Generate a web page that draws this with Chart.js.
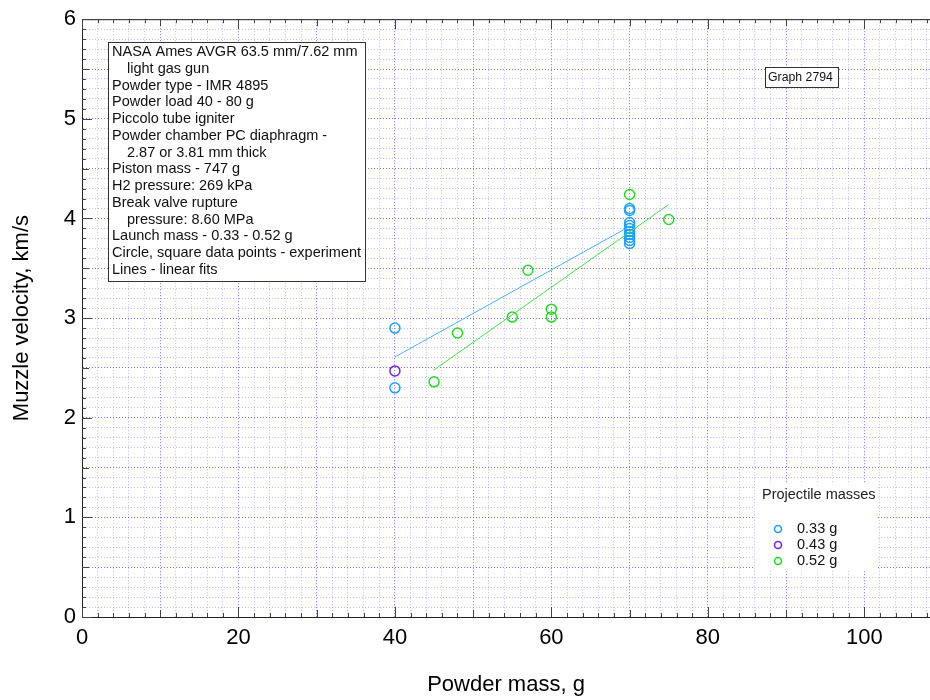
<!DOCTYPE html>
<html>
<head>
<meta charset="utf-8">
<script src="https://cdn.jsdelivr.net/npm/chart.js@4.4.1/dist/chart.umd.min.js"></script>
<style>
  body { margin: 0; background: #fff; }
  #wrap { width: 930px; height: 700px; }
</style>
</head>
<body>
<div id="wrap"><canvas id="muzzle_chart" width="930" height="700"></canvas></div>
<script>
// projectile 0.33 g
const blueX = [40, 40, 70, 70, 70, 70, 70, 70, 70, 70, 70, 70];
const blueY = [2.90, 2.30, 4.10, 4.08, 3.96, 3.93, 3.90, 3.87, 3.84, 3.81, 3.78, 3.75];
// projectile 0.43 g
const purpleX = [40];
const purpleY = [2.47];
// projectile 0.52 g
const greenX = [45, 48, 55, 57, 60, 60, 70, 75];
const greenY = [2.36, 2.85, 3.01, 3.48, 3.09, 3.01, 4.24, 3.99];
// linear fits
const blueFitX = [40, 70];
const blueFitY = [2.61, 3.92];
const greenFitX = [45, 75];
const greenFitY = [2.48, 4.14];

const legendLabels = ["0.33 g", "0.43 g", "0.52 g"];
const xTickLabels = [0, 20, 40, 60, 80, 100];
const yTickLabels = [0, 1, 2, 3, 4, 5, 6];

const notes = [
    ["NASA Ames AVGR 63.5 mm/7.62 mm", 0],
    ["light gas gun", 1],
    ["Powder type - IMR 4895", 0],
    ["Powder load 40 - 80 g", 0],
    ["Piccolo tube igniter", 0],
    ["Powder chamber PC diaphragm -", 0],
    ["2.87 or 3.81 mm thick", 1],
    ["Piston mass - 747 g", 0],
    ["H2 pressure: 269 kPa", 0],
    ["Break valve rupture", 0],
    ["pressure: 8.60 MPa", 1],
    ["Launch mass - 0.33 - 0.52 g", 0],
    ["Circle, square data points - experiment", 0],
    ["Lines - linear fits", 0]
];

const BLUE = "#1ea0ff";
const PURPLE = "#7a22e6";
const GREEN = "#22dd22";

function pts(xs, ys) {
    return xs.map((x, i) => ({x: x, y: ys[i]}));
}

function near(v, step) {
    return Math.abs(v / step - Math.round(v / step)) < 1e-6;
}

const FONT = "'Liberation Sans', Arial, sans-serif";

// tick marks pointing inwards, top border, text boxes and legend
const decorPlugin = {
    id: "decor",
    beforeDatasetsDraw(chart) {
        const ctx = chart.ctx;
        const a = chart.chartArea;
        const xs = chart.scales.x, ys = chart.scales.y;
        ctx.save();
        ctx.strokeStyle = "#222";
        ctx.lineWidth = 1;
        ctx.beginPath();
        ctx.moveTo(a.left, a.top + 0.5);
        ctx.lineTo(a.right, a.top + 0.5);
        ctx.stroke();
        ctx.strokeStyle = "#444";
        xs.ticks.forEach(t => {
            const px = Math.round(xs.getPixelForValue(t.value)) + 0.5;
            const len = near(t.value, 20) ? 10 : near(t.value, 10) ? 7 : 4;
            ctx.beginPath();
            ctx.moveTo(px, a.bottom);
            ctx.lineTo(px, a.bottom - len);
            ctx.moveTo(px, a.top);
            ctx.lineTo(px, a.top + len);
            ctx.stroke();
        });
        ys.ticks.forEach(t => {
            const py = Math.round(ys.getPixelForValue(t.value)) + 0.5;
            const len = near(t.value, 1) ? 10 : near(t.value, 0.5) ? 7 : 4;
            ctx.beginPath();
            ctx.moveTo(a.left, py);
            ctx.lineTo(a.left + len, py);
            ctx.stroke();
        });
        ctx.restore();
    },
    afterDraw(chart) {
        const ctx = chart.ctx;
        ctx.save();
        // notes box
        ctx.fillStyle = "#fff";
        ctx.fillRect(108, 42, 257, 239);
        ctx.strokeStyle = "#333";
        ctx.lineWidth = 1;
        ctx.strokeRect(108.5, 42.5, 257, 239);
        ctx.fillStyle = "#111";
        ctx.font = "14.5px " + FONT;
        ctx.textBaseline = "middle";
        notes.forEach((n, i) => {
            ctx.fillText(n[0], n[1] ? 127 : 112, 52 + i * 16.75);
        });
        // graph id
        ctx.fillStyle = "#fff";
        ctx.fillRect(765, 67, 73, 20);
        ctx.strokeStyle = "#333";
        ctx.strokeRect(765.5, 67.5, 73, 20);
        ctx.fillStyle = "#111";
        ctx.font = "12.3px " + FONT;
        ctx.fillText("Graph 2794", 768, 78);
        // legend
        ctx.fillStyle = "#fff";
        ctx.fillRect(755, 483, 123, 88);
        ctx.fillStyle = "#222";
        ctx.font = "14.5px " + FONT;
        ctx.fillText("Projectile masses", 762, 495);
        const cols = [BLUE, PURPLE, GREEN];
        ctx.font = "14.5px " + FONT;
        legendLabels.forEach((lab, i) => {
            const y = 529 + i * 16;
            ctx.strokeStyle = cols[i];
            ctx.lineWidth = 1.6;
            ctx.beginPath();
            ctx.arc(778, y, 3.5, 0, Math.PI * 2);
            ctx.stroke();
            ctx.fillStyle = "#111";
            ctx.fillText(lab, 797, y);
        });
        ctx.restore();
    }
};

window.addEventListener("DOMContentLoaded", function() {
    const ctx = document.getElementById("muzzle_chart");

    const marker = (color) => ({
        pointRadius: 5,
        pointHoverRadius: 5,
        pointBorderWidth: 1.5,
        pointBorderColor: color,
        pointBackgroundColor: "rgba(0,0,0,0)",
        showLine: false
    });

    const data = {
        datasets: [
            Object.assign({label: "fit 0.33", data: pts(blueFitX, blueFitY), showLine: true,
                borderColor: "#44b4ff", borderWidth: 1, pointRadius: 0}),
            Object.assign({label: "fit 0.52", data: pts(greenFitX, greenFitY), showLine: true,
                borderColor: "#44e044", borderWidth: 1, pointRadius: 0}),
            Object.assign({label: legendLabels[0], data: pts(blueX, blueY)}, marker(BLUE)),
            Object.assign({label: legendLabels[1], data: pts(purpleX, purpleY)}, marker(PURPLE)),
            Object.assign({label: legendLabels[2], data: pts(greenX, greenY)}, marker(GREEN))
        ]
    };

    const config = {
        type: "scatter",
        data: data,
        plugins: [decorPlugin],
        options: {
            responsive: false,
            animation: false,
            layout: { autoPadding: false, padding: { top: 16, right: 0, left: 0, bottom: 0 } },
            plugins: { legend: { display: false }, tooltip: { enabled: false } },
            scales: {
                x: {
                    type: "linear",
                    min: 0,
                    max: 108.4,
                    afterBuildTicks: function(scale) {
                        const t = [];
                        for (let v = 0; v <= 108; v += 2) t.push({value: v});
                        scale.ticks = t;
                    },
                    afterFit: function(scale) {
                        scale.height = 83;
                        scale.paddingRight = 0;
                    },
                    ticks: {
                        autoSkip: false,
                        maxRotation: 0,
                        padding: 8,
                        color: "#000",
                        font: { family: FONT, size: 22 },
                        callback: v => xTickLabels.includes(v) ? String(v) : ""
                    },
                    grid: {
                        drawTicks: false,
                        color: c => (c.tick && near(c.tick.value, 10)) ? "rgba(70,70,255,0.75)" : "rgba(110,110,255,0.45)",
                        lineWidth: 1
                    },
                    border: { display: true, color: "#222", width: 1, dash: [1, 2] },
                    title: {
                        display: true,
                        text: "Powder mass, g",
                        color: "#000",
                        font: { family: FONT, size: 22 },
                        padding: { top: 0, bottom: 2 }
                    }
                },
                y: {
                    type: "linear",
                    min: 0,
                    max: 6,
                    afterBuildTicks: function(scale) {
                        const t = [];
                        for (let i = 0; i <= 60; i++) t.push({value: i / 10});
                        scale.ticks = t;
                    },
                    afterFit: function(scale) { scale.width = 82; },
                    ticks: {
                        autoSkip: false,
                        padding: 6,
                        color: "#000",
                        font: { family: FONT, size: 22 },
                        callback: v => yTickLabels.some(k => Math.abs(k - v) < 1e-6) ? String(Math.round(v)) : ""
                    },
                    grid: {
                        drawTicks: false,
                        color: c => (c.tick && near(c.tick.value, 0.5)) ? "rgba(70,70,255,0.75)" : "rgba(110,110,255,0.45)",
                        lineWidth: 1
                    },
                    border: { display: true, color: "#222", width: 1, dash: [1, 2] },
                    title: {
                        display: true,
                        text: "Muzzle velocity, km/s",
                        color: "#000",
                        font: { family: FONT, size: 22 },
                        padding: { top: 9, bottom: 0 }
                    }
                }
            }
        }
    };
    new Chart(ctx, config);
});
</script>
</body>
</html>
